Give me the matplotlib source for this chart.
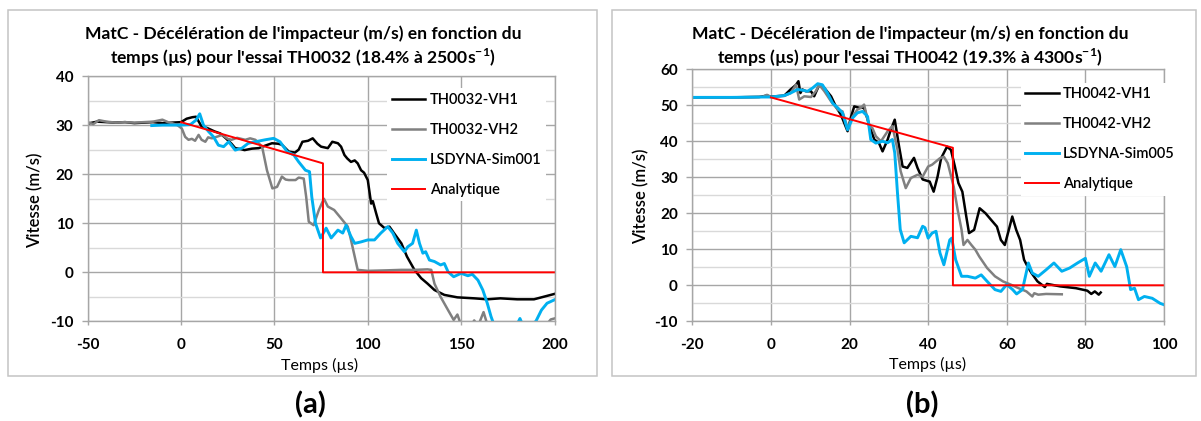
import matplotlib
matplotlib.use('Agg')
import matplotlib.pyplot as plt
from matplotlib.patches import Rectangle
from matplotlib.ticker import MultipleLocator

plt.rcParams['font.family'] = ['Lato', 'DejaVu Sans']
plt.rcParams['mathtext.fontset'] = 'custom'
plt.rcParams['mathtext.rm'] = 'Lato'
plt.rcParams['mathtext.bf'] = 'Lato:bold'
plt.rcParams['axes.unicode_minus'] = False

# ---- essai TH0032 (a) ----
t_vh1_a = [-50, -45, -40, -35, -30, -25, -20, -15, -10, -5, 0, 3, 6, 8, 11, 14, 18, 21, 24, 27,
           29, 32, 34, 38, 41.6, 45, 48.7, 52, 54, 57.7, 61, 63, 65, 68, 70.5, 73, 75, 78.6, 81,
           84, 85.7, 87.5, 89, 91, 93, 94.6, 96.4, 98, 100, 101.8, 102.7, 104.5, 106, 109, 111.6,
           114, 118, 121, 125, 128.6, 132, 135.7, 141, 148, 157, 164, 171, 180, 189, 196, 200]
v_vh1_a = [30.3, 30.7, 30.6, 30.5, 30.6, 30.4, 30.5, 30.6, 30.4, 30.5, 30.6, 31.3, 31.6, 31.7, 29.7,
           29.4, 28.7, 28.3, 27.3, 26.2, 25.3, 25.1, 24.9, 25.2, 25.3, 25.8, 26.3, 26.2, 26.0, 24.6,
           24.4, 25.0, 26.6, 26.8, 27.3, 26.2, 25.6, 25.3, 26.6, 26.3, 25.6, 23.9, 23.2, 22.5, 22.8,
           22.2, 20.8, 20.3, 18.8, 14.0, 14.5, 12.0, 10.0, 9.0, 9.3, 8.0, 5.9, 3.2, 0.5, -1.2, -2.3,
           -3.6, -4.6, -5.1, -5.3, -5.5, -5.3, -5.5, -5.5, -4.8, -4.4]

t_vh2_a = [-50, -47, -44, -40, -35, -30, -25, -20, -15, -10, -7, -5, -2, 0.4, 2.2, 4, 5.8, 7.5, 9.4,
           11, 13, 14.5, 16.5, 19, 22, 25, 27, 30, 34.4, 37, 39.8, 43.4, 46, 48.9, 51.4, 54, 56,
           57.7, 61.3, 63, 65.7, 67, 68.4, 71, 73.8, 76.5, 78.6, 82, 85.7, 89.3, 91, 93, 94.6, 100,
           110, 118, 125, 132, 134, 135.7, 139, 143, 146, 148, 150, 155, 157, 159, 162, 164, 168,
           172, 180, 195, 198, 200]
v_vh2_a = [30.6, 30.2, 31.0, 30.7, 30.5, 30.6, 30.5, 30.6, 30.7, 31.1, 30.6, 30.4, 30.0, 29.3, 27.6,
           27.0, 27.2, 26.8, 28.0, 27.0, 26.6, 27.5, 27.3, 27.6, 28.0, 27.2, 27.0, 27.4, 27.0, 27.3,
           27.0, 25.6, 20.8, 17.1, 17.4, 19.5, 18.9, 18.8, 18.8, 19.3, 19.1, 15.4, 10.3, 9.6, 12.7,
           15.0, 13.4, 12.7, 11.0, 9.3, 6.6, 3.2, 0.5, 0.3, 0.4, 0.5, 0.5, 0.6, 0.5, -2.3, -5.0,
           -7.7, -9.7, -8.6, -10.8, -11.0, -9.8, -11.0, -8.1, -10.6, -11.0, -10.3, -11.0, -11.0,
           -9.6, -9.4]

t_sim_a = [-15.7, -10, -5, 0, 5, 8, 10, 12, 14.7, 17.4, 20, 22.8, 25.5, 29, 32.6, 36, 39.8, 45, 49.6,
           53, 56.8, 60.4, 63, 66.6, 68.8, 70, 72, 74.7, 77.7, 80.4, 84, 86.6, 88.4, 91, 93, 96.4,
           100, 103.6, 107, 110.7, 113.4, 116, 119.6, 121.4, 124, 126, 127.7, 129.5, 131, 133,
           135.7, 139, 141, 143, 146, 150, 153.6, 156, 159, 161.6, 164, 166, 167.9, 175, 180,
           181.5, 183, 188, 190, 193, 196, 200]
v_sim_a = [29.9, 30.0, 30.0, 30.0, 30.1, 31.0, 32.3, 30.0, 28.7, 27.6, 25.9, 25.6, 26.6, 24.9, 25.3,
           26.3, 26.6, 27.0, 27.3, 26.6, 24.6, 23.9, 22.5, 20.8, 20.5, 15.4, 10.0, 7.0, 9.0, 7.0,
           8.6, 8.0, 9.6, 7.3, 5.9, 6.2, 6.6, 6.6, 8.0, 9.3, 8.0, 5.9, 4.2, 5.2, 5.9, 8.6, 5.9,
           3.9, 4.2, 2.5, 2.2, 1.5, 1.8, 0.1, -0.9, -0.2, -0.7, -0.4, -1.6, -3.6, -6.3, -9.0,
           -11.0, -11.5, -10.6, -9.4, -10.8, -10.5, -10.0, -7.7, -6.3, -5.6]

t_ana_a = [0, 76, 76, 200]
v_ana_a = [30.6, 22.2, 0, 0]

# ---- essai TH0042 (b) ----
t_vh1_b = [-20, -10, -3, -1, 0, 3.4, 5, 6.4, 7, 7.5, 8, 8.9, 10.2, 11, 12.3, 13.6, 15.3, 16.5, 17.8,
           19.5, 20.3, 21.2, 22.5, 23.7, 25, 26.3, 27.5, 28.4, 29.7, 30.5, 31.5, 32.6, 33.5, 34.7,
           36.4, 37.3, 38.6, 40.4, 41.4, 42.4, 43.3, 44.8, 45.8, 46.8, 47.7, 48.7, 49.7, 50.4,
           51.7, 53.1, 54.6, 56, 57.5, 58.5, 59.5, 60.4, 61.4, 62.4, 63.4, 64.4, 65.3, 66.3, 67.8,
           69.7, 70.2, 73.6, 77.6, 80.5, 81.5, 82.4, 83.4, 83.9]
v_vh1_b = [52.2, 52.2, 52.3, 52.7, 52.4, 52.7, 54.4, 55.7, 56.7, 53.4, 54.4, 53.9, 53.9, 52.5, 55.7,
           54.8, 52.5, 49.7, 47.4, 42.8, 46.5, 49.7, 49.3, 49.3, 44.6, 40.5, 39.5, 37.2, 40.5, 43.2,
           46.0, 38.6, 33.0, 32.6, 35.4, 32.6, 29.4, 28.8, 26.0, 30.2, 35.3, 38.5, 37.6, 33.0, 28.4,
           26.0, 19.1, 14.5, 15.4, 21.4, 20.0, 18.2, 16.3, 12.6, 11.2, 14.9, 19.1, 15.4, 12.6, 7.1,
           5.2, 3.4, 1.1, -0.5, 0.4, -0.3, -0.8, -1.5, -2.4, -1.7, -2.6, -2.0]

t_vh2_b = [-20, -10, -2, -1, 0, 3.4, 5, 6.4, 7.2, 8.5, 10.2, 11.4, 12.3, 13.6, 15.3, 17, 18.2, 19.5,
           20.8, 22, 22.9, 23.7, 25, 25.8, 26.7, 28, 29.7, 30.9, 32.2, 33, 34.3, 35.6, 37.3, 38.6,
           40, 41, 43, 44, 45, 46.5, 47.5, 48.5, 49, 50, 51, 52, 53, 55, 57, 59, 61, 63, 65, 66.5,
           67, 68, 70, 74]
v_vh2_b = [52.2, 52.2, 52.4, 52.9, 52.3, 52.6, 53.4, 55.7, 51.6, 52.5, 52.3, 53.9, 55.7, 53.9, 51.1,
           48.8, 48.3, 43.7, 46.9, 48.8, 49.3, 50.2, 44.2, 43.7, 41.4, 40.0, 42.8, 44.2, 37.7, 31.7,
           27.0, 29.8, 30.7, 30.2, 33.0, 33.5, 35.3, 35.7, 33.9, 27.4, 21.0, 15.4, 11.2, 12.6, 11.2,
           9.9, 8.0, 4.8, 2.5, 1.1, 0.2, -0.8, -1.7, -3.1, -2.2, -2.6, -2.4, -2.5]

t_sim_b = [-20, -10, -2, 0, 3.4, 5, 6.8, 8, 9.3, 10.6, 11.9, 13.1, 14.4, 15.7, 17, 18.2, 19.5, 20.8,
           22, 23.3, 24.6, 25.4, 26.7, 28.4, 29.7, 30.9, 31.5, 32.2, 32.9, 33.9, 35.6, 37.3, 38.6,
           39.2, 40, 41, 42, 43, 44, 45.5, 46, 47, 48.5, 50, 52, 53.5, 55, 57, 58.5, 60, 61.5, 62.5,
           64, 65.5, 66.5, 68, 70, 72, 74, 76, 78, 80, 81, 82.5, 84, 86, 87.5, 89, 90.5, 91.5, 92.5,
           93.5, 95, 97, 99, 100]
v_sim_b = [52.2, 52.2, 52.3, 52.3, 52.7, 53.4, 54.4, 54.2, 53.9, 54.8, 56.0, 55.7, 53.4, 50.6, 49.3,
           47.9, 43.2, 46.5, 47.9, 48.3, 46.9, 40.5, 39.5, 40.0, 39.6, 40.5, 36.8, 25.6, 15.5, 11.8,
           13.6, 13.2, 16.4, 16.0, 13.1, 14.5, 15.0, 9.0, 5.7, 12.6, 13.1, 7.1, 2.5, 2.5, 2.0, 2.9,
           1.1, -1.2, -1.7, 0.2, -1.2, -2.4, -1.2, 6.2, 3.4, 2.5, 4.3, 6.2, 3.9, 4.8, 6.2, 7.5, 2.5,
           6.2, 3.9, 8.5, 5.2, 9.9, 5.2, -1.2, -0.8, -4.0, -3.1, -3.6, -5.0, -5.4]

t_ana_b = [0, 46.3, 46.3, 100]
v_ana_b = [52.2, 38.2, 0, 0]

W, H = 1201, 421
fig = plt.figure(figsize=(W / 100, H / 100), dpi=100)

GRID = '#a6a6a6'
MINOR = '#d9d9d9'


def add_axes_px(x0, x1, y0, y1):
    return fig.add_axes([x0 / W, 1 - y1 / H, (x1 - x0) / W, (y1 - y0) / H])


def panel(ax, curves, xlim, ylim, xstep, ystep, leg_xy):
    for t, v, c, lw, lab in curves:
        ax.plot(t, v, color=c, lw=lw, label=lab, solid_joinstyle='round')
    ax.set_xlim(*xlim)
    ax.set_ylim(*ylim)
    ax.xaxis.set_major_locator(MultipleLocator(xstep))
    ax.yaxis.set_major_locator(MultipleLocator(ystep))
    ax.yaxis.set_minor_locator(MultipleLocator(ystep / 2))
    ax.grid(True, which='major', color=GRID, lw=1.0)
    ax.grid(True, which='minor', axis='y', color=MINOR, lw=1.0)
    ax.set_axisbelow(True)
    for s in ax.spines.values():
        s.set_color(GRID)
        s.set_linewidth(1.0)
    ax.tick_params(axis='y', which='major', length=4.3, width=1, color=GRID, pad=6,
                   labelsize=11)
    ax.tick_params(axis='y', which='minor', length=0)
    ax.tick_params(axis='x', length=3, width=1, color=GRID, pad=9, labelsize=11)
    for lbl in ax.get_xticklabels() + ax.get_yticklabels():
        lbl.set_fontweight('bold')
    leg = ax.legend(loc='upper left', bbox_to_anchor=leg_xy, frameon=True, fancybox=False,
                    facecolor='white', edgecolor='none', framealpha=1, fontsize=10.5,
                    borderpad=0.3, handlelength=2.3, handletextpad=0.3, labelspacing=1.1,
                    borderaxespad=0)
    for txt in leg.get_texts():
        txt.set_fontweight('semibold')
    return ax


# panel (a)
ax1 = add_axes_px(87.7, 554.5, 76, 321.4)
panel(ax1, [(t_vh1_a, v_vh1_a, 'black', 1.8, 'TH0032-VH1'),
            (t_vh2_a, v_vh2_a, '#808080', 1.8, 'TH0032-VH2'),
            (t_sim_a, v_sim_a, '#00b0f0', 2.1, 'LSDYNA-Sim001'),
            (t_ana_a, v_ana_a, 'red', 1.4, 'Analytique')],
      (-50, 200), (-10, 40), 50, 10, (0.642, 0.950))

# panel (b)
ax2 = add_axes_px(692.3, 1164, 69.3, 321.3)
panel(ax2, [(t_vh1_b, v_vh1_b, 'black', 1.8, 'TH0042-VH1'),
            (t_vh2_b, v_vh2_b, '#808080', 1.8, 'TH0042-VH2'),
            (t_sim_b, v_sim_b, '#00b0f0', 2.1, 'LSDYNA-Sim005'),
            (t_ana_b, v_ana_b, 'red', 1.4, 'Analytique')],
      (-20, 100), (-10, 60), 20, 10, (0.696, 0.947))

# chart borders, titles and labels
for x0, x1 in [(8, 597), (612, 1196)]:
    fig.add_artist(Rectangle((x0 / W, 1 - 376 / H), (x1 - x0) / W, 366 / H,
                             transform=fig.transFigure, fill=False, edgecolor='#c4c4c4', lw=1.1))


def fx(x):
    return x / W


def fy(y):
    return 1 - y / H


titles = [(303, "MatC - Décélération de l'impacteur (m/s) en fonction du",
           r"temps (µs) pour l'essai TH0032 (18.4% à 2500s$^{\mathbf{-1}}$)"),
          (910, "MatC - Décélération de l'impacteur (m/s) en fonction du",
           r"temps (µs) pour l'essai TH0042 (19.3% à 4300s$^{\mathbf{-1}}$)")]
for x, l1, l2 in titles:
    fig.text(fx(x), fy(34), l1, ha='center', va='center', fontsize=12.6, fontweight='bold')
    fig.text(fx(x), fy(58), l2, ha='center', va='center', fontsize=12.6, fontweight='bold')

fig.text(fx(35), fy(200), 'Vitesse (m/s)', rotation=90, ha='center', va='center', fontsize=12,
         fontweight='semibold')
fig.text(fx(641), fy(196), 'Vitesse (m/s)', rotation=90, ha='center', va='center', fontsize=12,
         fontweight='semibold')
fig.text(fx(320), fy(365), 'Temps (µs)', ha='center', va='center', fontsize=11.5)
fig.text(fx(928), fy(364), 'Temps (µs)', ha='center', va='center', fontsize=11.5)

fig.text(fx(310), fy(405), '(a)', ha='center', va='center', fontsize=21, fontweight='bold')
fig.text(fx(922), fy(405), '(b)', ha='center', va='center', fontsize=21, fontweight='bold')

fig.savefig('out.png', dpi=100, facecolor='white')
